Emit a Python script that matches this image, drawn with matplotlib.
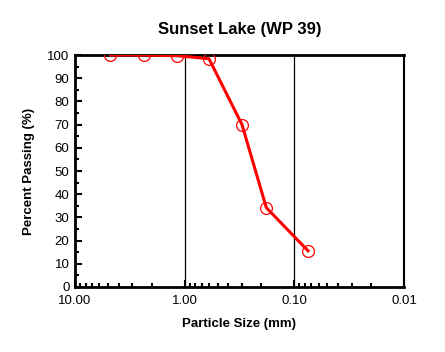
import matplotlib
matplotlib.use("Agg")
import matplotlib.pyplot as plt
from matplotlib.ticker import FixedLocator, NullFormatter, MultipleLocator

plt.rcParams['font.family'] = ['Liberation Sans', 'DejaVu Sans']

# sieve data
size_mm = [4.75, 2.36, 1.18, 0.6, 0.3, 0.18, 0.075]
passing = [100, 100, 99.7, 98.4, 70, 34.2, 15.6]
x_ticks = [10, 1, 0.1, 0.01]
x_tick_labels = ["10.00", "1.00", "0.10", "0.01"]

fig = plt.figure(figsize=(4.45, 3.52), dpi=100, facecolor="white")
ax = fig.add_axes([0.1685, 0.1847, 0.7393, 0.659])

ax.set_xscale('log')
ax.set_xlim(10, 0.01)
ax.set_ylim(0, 100)

# vertical gridlines at major decades
for xv in x_ticks[1:-1]:
    ax.axvline(xv, color='black', lw=0.9, zorder=1)

ax.plot(size_mm, passing, color='red', lw=2.2, zorder=3)
ax.plot(size_mm, passing, ls='none', marker='o', ms=8.5, mfc='none',
        mec='red', mew=0.9, zorder=4)

ax.xaxis.set_major_locator(FixedLocator(x_ticks))
ax.set_xticklabels(x_tick_labels)
minors = [m * d for d in (1, 0.1, 0.01) for m in range(2, 10)]
ax.xaxis.set_minor_locator(FixedLocator(minors))
ax.xaxis.set_minor_formatter(NullFormatter())
ax.yaxis.set_major_locator(MultipleLocator(10))
ax.yaxis.set_minor_locator(MultipleLocator(5))

ax.tick_params(which='both', direction='in', labelsize=9.5, width=1.5)
ax.tick_params(which='major', length=5, pad=6)
ax.tick_params(which='minor', length=3)
ax.tick_params(axis='y', pad=4)

for sp in ax.spines.values():
    sp.set_linewidth(2)
ax.spines['right'].set_linewidth(1.5)

ax.set_title("Sunset Lake (WP 39)", fontsize=12, fontweight='bold', pad=15)
ax.set_xlabel("Particle Size (mm)", fontsize=9.5, fontweight='bold', labelpad=8)
ax.set_ylabel("Percent Passing (%)", fontsize=9.5, fontweight='bold', labelpad=9)

fig.savefig("out.png", dpi=100, facecolor="white")
